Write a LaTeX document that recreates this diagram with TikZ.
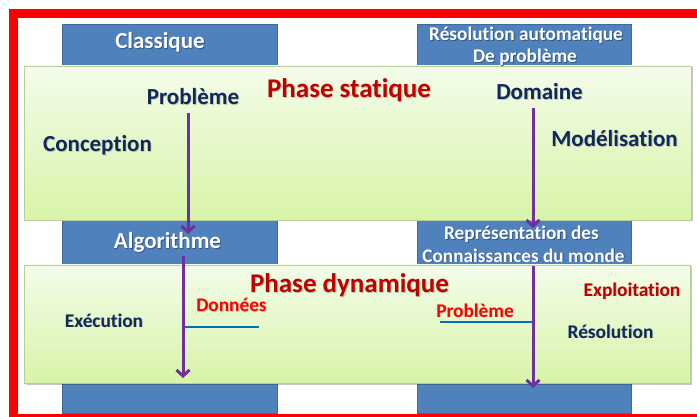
\documentclass[tikz,border=0pt]{standalone}
\usepackage{fontspec}
\setmainfont{Carlito}[Ligatures=NoCommon]
\usetikzlibrary{arrows.meta,shadows}

\definecolor{colblue}{HTML}{4F81BD}
\definecolor{colblueedge}{HTML}{41699A}
\definecolor{greentop}{HTML}{F4FCEA}
\definecolor{greenbot}{HTML}{D7F4A8}
\definecolor{greenedge}{HTML}{B9CD98}
\definecolor{navy}{HTML}{10285C}
\definecolor{darkred}{HTML}{C00000}
\definecolor{brightred}{HTML}{FF0000}
\definecolor{purplearrow}{HTML}{7030A0}
\definecolor{lineblue}{HTML}{0070C0}
\definecolor{framered}{HTML}{FF0000}
\definecolor{shadeonblue}{HTML}{34557E}
\definecolor{shadeongreen}{HTML}{BFCBAA}

% text with a soft offset shadow underneath
\newcommand\shadowed[2]{\leavevmode\rlap{\kern0.9pt\raisebox{-0.9pt}{\textcolor{#1}{#2}}}#2}

\tikzset{
  column/.style={fill=colblue, draw=colblueedge, line width=0.6pt},
  phase/.style={top color=greentop, bottom color=greenbot, draw=greenedge, line width=0.8pt,
    drop shadow={shadow xshift=1.5pt, shadow yshift=-1.5pt, opacity=0.22, fill=black}},
  lbl/.style={anchor=base, inner sep=0pt, font=\bfseries\fontsize{23}{25}\selectfont},
  lblS/.style={anchor=base, inner sep=0pt, font=\bfseries\fontsize{19.3}{21}\selectfont},
  lblL/.style={anchor=base, inner sep=0pt, font=\bfseries\fontsize{27}{29}\selectfont},
  flow/.style={draw=purplearrow, line width=3pt,
    -{Straight Barb[length=6pt,width=13pt]}},
  datum/.style={draw=lineblue, line width=2.2pt},
}

\begin{document}
\begin{tikzpicture}[x=1pt,y=-1pt]
\useasboundingbox (0,0) rectangle (697,417);

% the two columns
\draw[column] (62,24) rectangle (277,413);
\draw[column] (417,24) rectangle (631,413);

% the two phase bands
\draw[phase] (24,66) rectangle (691,220);
\draw[phase] (24,265) rectangle (690,383);

% column headings
\node[lbl, text=white] (classique) at (160,49) {\shadowed{shadeonblue}{Classique}};
\node[lblS, text=white] (resol1) at (526,41) {\shadowed{shadeonblue}{Résolution automatique}};
\node[lblS, text=white] (resol2) at (525,63) {\shadowed{shadeonblue}{De problème}};

% static phase
\node[lblL, text=darkred] (pstat) at (349,98) {\shadowed{shadeongreen}{Phase statique}};
\node[lbl, text=navy] (probleme) at (193,105) {\shadowed{shadeongreen}{Problème}};
\node[lbl, text=navy] (domaine) at (539.5,100) {\shadowed{shadeongreen}{Domaine}};
\node[lbl, text=navy] (conception) at (97.5,152) {\shadowed{shadeongreen}{Conception}};
\node[lbl, text=navy] (modelisation) at (614.5,147) {\shadowed{shadeongreen}{Modélisation}};

% results of the static phase
\node[lbl, text=white] (algo) at (167.5,249) {\shadowed{shadeonblue}{Algorithme}};
\node[lblS, text=white] (repr1) at (521.5,240) {\shadowed{shadeonblue}{Représentation des}};
\node[lblS, text=white] (repr2) at (523.5,262) {\shadowed{shadeonblue}{Connaissances du monde}};

% dynamic phase
\node[lblL, text=darkred] (pdyn) at (349.5,293) {\shadowed{shadeongreen}{Phase dynamique}};
\node[lblS, text=navy] (execution) at (104,327) {\shadowed{shadeongreen}{Exécution}};
\node[lblS, text=brightred] (donnees) at (231.5,312) {\shadowed{shadeongreen}{Données}};
\node[lblS, text=brightred] (probdyn) at (475,317) {\shadowed{shadeongreen}{Problème}};
\node[lblS, text=darkred] (exploitation) at (632,296) {\shadowed{shadeongreen}{Exploitation}};
\node[lblS, text=navy] (resolution) at (610.5,338) {\shadowed{shadeongreen}{Résolution}};

% arrow end points
\coordinate (c1s) at (188,113);
\coordinate (c1e) at (188,234);
\coordinate (c2s) at (183,256);
\coordinate (c2e) at (183,378);
\coordinate (r1s) at (533,108);
\coordinate (r1e) at (533,228);
\coordinate (r2s) at (533,266);
\coordinate (r2e) at (533,388);
\coordinate (d1s) at (184,327);
\coordinate (d1e) at (259,327);
\coordinate (d2s) at (440,322);
\coordinate (d2e) at (532,322);

% data inputs
\draw[datum] (d1s) -- (d1e);
\draw[datum] (d2s) -- (d2e);

% flows
\draw[flow] (c1s) -- (c1e);
\draw[flow] (c2s) -- (c2e);
\draw[flow] (r1s) -- (r1e);
\draw[flow] (r2s) -- (r2e);

% outer frame, open on the right
\draw[framered, line width=9pt, line join=miter] (720,13.5) -- (13.5,13.5) -- (13.5,418.5) -- (720,418.5);
\end{tikzpicture}
\end{document}
